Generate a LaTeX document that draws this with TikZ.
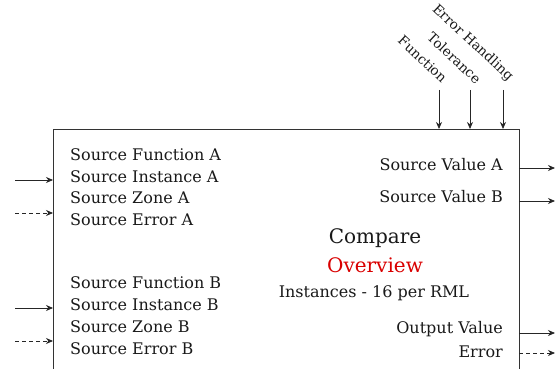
\documentclass[tikz,border=0pt]{standalone}
\usepackage{fontspec}
\setmainfont{DejaVu Serif}
\usetikzlibrary{arrows.meta}
\begin{document}
\begin{tikzpicture}[x=1pt,y=-1pt,
  lbl/.style={font=\fontsize{16}{18}\selectfont, inner sep=0pt, text=black!90},
  toplbl/.style={font=\fontsize{13.5}{15}\selectfont, inner sep=0pt, rotate=-43, anchor=east, text=black!90},
  conn/.style={line width=0.8pt, black!85, -{Stealth[length=7pt,width=6pt]}},
  dconn/.style={conn, dash pattern=on 4pt off 3pt}]
\useasboundingbox (0,0) rectangle (555,369);
% box (open at bottom)
\draw[line width=0.9pt, black!80] (53,369) -- (53,129) -- (519,129) -- (519,369);
% left labels
\node[lbl, anchor=west] (sfa) at (70,155) {Source Function A};
\node[lbl, anchor=west] (sia) at (70,177) {Source Instance A};
\node[lbl, anchor=west] (sza) at (70,198) {Source Zone A};
\node[lbl, anchor=west] (sea) at (70,220) {Source Error A};
\node[lbl, anchor=west] (sfb) at (70,283) {Source Function B};
\node[lbl, anchor=west] (sib) at (70,305) {Source Instance B};
\node[lbl, anchor=west] (szb) at (70,327) {Source Zone B};
\node[lbl, anchor=west] (seb) at (70,349) {Source Error B};
% right labels
\node[lbl, anchor=east] (sva) at (503,165) {Source Value A};
\node[lbl, anchor=east] (svb) at (503,197) {Source Value B};
\node[lbl, anchor=east] (ov) at (503,329) {Output Value};
\node[lbl, anchor=east] (err) at (503,352) {Error};
% centre
\node[lbl, font=\fontsize{20}{22}\selectfont] (cmp) at (375,238) {Compare};
\node[lbl, font=\fontsize{20}{22}\selectfont, text=red!85!black] (ovw) at (375,265) {Overview};
\node[lbl] (inst) at (374,293) {Instances - 16 per RML};
% top labels
\node[toplbl] (fn) at (445,80) {Function};
\node[toplbl] (tol) at (479,81) {Tolerance};
\node[toplbl] (eh) at (511,79) {Error Handling};
% coordinates
\coordinate (inA) at (15,180); \coordinate (inAb) at (53,180);
\coordinate (inAe) at (15,213); \coordinate (inAeb) at (53,213);
\coordinate (inB) at (15,308); \coordinate (inBb) at (53,308);
\coordinate (inBe) at (15,341); \coordinate (inBeb) at (53,341);
\coordinate (oA) at (519,168); \coordinate (oAe) at (555,168);
\coordinate (oB) at (519,201); \coordinate (oBe) at (555,201);
\coordinate (oV) at (519,333); \coordinate (oVe) at (555,333);
\coordinate (oE) at (519,353); \coordinate (oEe) at (555,353);
\coordinate (tF) at (439,90); \coordinate (tFb) at (439,129);
\coordinate (tT) at (470,90); \coordinate (tTb) at (470,129);
\coordinate (tE) at (503,90); \coordinate (tEb) at (503,129);
% connectors
\draw[conn] (inA) -- (inAb);
\draw[dconn] (inAe) -- (inAeb);
\draw[conn] (inB) -- (inBb);
\draw[dconn] (inBe) -- (inBeb);
\draw[conn] (oA) -- (oAe);
\draw[conn] (oB) -- (oBe);
\draw[conn] (oV) -- (oVe);
\draw[dconn] (oE) -- (oEe);
\draw[conn] (tF) -- (tFb);
\draw[conn] (tT) -- (tTb);
\draw[conn] (tE) -- (tEb);
\end{tikzpicture}
\end{document}
